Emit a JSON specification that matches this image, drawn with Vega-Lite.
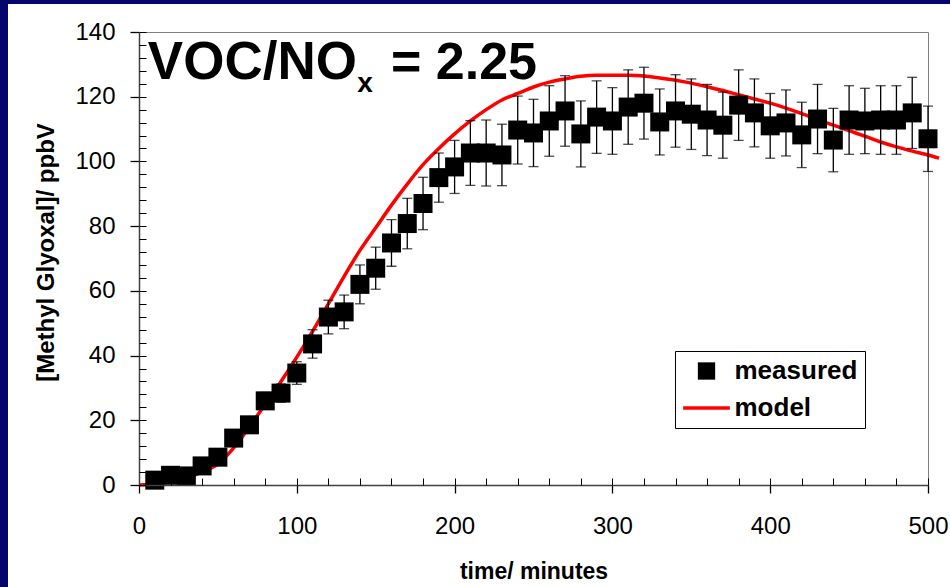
{
  "$schema": "https://vega.github.io/schema/vega-lite/v6.json",
  "autosize": {"type": "none"},
  "width": 789,
  "height": 453,
  "padding": {"left": 139, "top": 32, "right": 22, "bottom": 102},
  "background": "white",
  "config": {"view": {"stroke": null}, "font": "Liberation Sans"},
  "datasets": {
    "measured": [
      {"t": 10, "v": 1.5, "e": 0.2, "series": "measured"},
      {"t": 20, "v": 3.0, "e": 0.3, "series": "measured"},
      {"t": 30, "v": 2.8, "e": 0.3, "series": "measured"},
      {"t": 40, "v": 5.9, "e": 0.6, "series": "measured"},
      {"t": 50, "v": 8.6, "e": 0.9, "series": "measured"},
      {"t": 60, "v": 14.5, "e": 1.5, "series": "measured"},
      {"t": 70, "v": 18.6, "e": 1.9, "series": "measured"},
      {"t": 80, "v": 26.0, "e": 2.6, "series": "measured"},
      {"t": 90, "v": 28.4, "e": 2.8, "series": "measured"},
      {"t": 100, "v": 34.6, "e": 3.5, "series": "measured"},
      {"t": 110, "v": 43.6, "e": 4.4, "series": "measured"},
      {"t": 120, "v": 51.9, "e": 5.2, "series": "measured"},
      {"t": 130, "v": 53.5, "e": 5.2, "series": "measured"},
      {"t": 140, "v": 62.0, "e": 6.0, "series": "measured"},
      {"t": 150, "v": 67.0, "e": 6.5, "series": "measured"},
      {"t": 160, "v": 74.8, "e": 7.2, "series": "measured"},
      {"t": 170, "v": 80.8, "e": 7.8, "series": "measured"},
      {"t": 180, "v": 87.0, "e": 8.1, "series": "measured"},
      {"t": 190, "v": 95.0, "e": 7.6, "series": "measured"},
      {"t": 200, "v": 98.3, "e": 8.2, "series": "measured"},
      {"t": 210, "v": 102.6, "e": 10.0, "series": "measured"},
      {"t": 220, "v": 102.6, "e": 10.2, "series": "measured"},
      {"t": 230, "v": 102.0, "e": 9.5, "series": "measured"},
      {"t": 240, "v": 109.7, "e": 10.5, "series": "measured"},
      {"t": 250, "v": 108.8, "e": 10.4, "series": "measured"},
      {"t": 260, "v": 112.5, "e": 10.9, "series": "measured"},
      {"t": 270, "v": 115.6, "e": 10.9, "series": "measured"},
      {"t": 280, "v": 108.5, "e": 10.2, "series": "measured"},
      {"t": 290, "v": 113.7, "e": 11.2, "series": "measured"},
      {"t": 300, "v": 112.5, "e": 10.3, "series": "measured"},
      {"t": 310, "v": 116.8, "e": 11.5, "series": "measured"},
      {"t": 320, "v": 118.0, "e": 11.1, "series": "measured"},
      {"t": 330, "v": 112.2, "e": 10.2, "series": "measured"},
      {"t": 340, "v": 115.6, "e": 11.2, "series": "measured"},
      {"t": 350, "v": 114.6, "e": 10.9, "series": "measured"},
      {"t": 360, "v": 112.8, "e": 11.0, "series": "measured"},
      {"t": 370, "v": 111.2, "e": 10.2, "series": "measured"},
      {"t": 380, "v": 117.4, "e": 10.9, "series": "measured"},
      {"t": 390, "v": 115.0, "e": 10.5, "series": "measured"},
      {"t": 400, "v": 111.0, "e": 10.0, "series": "measured"},
      {"t": 410, "v": 111.9, "e": 10.2, "series": "measured"},
      {"t": 420, "v": 108.2, "e": 10.1, "series": "measured"},
      {"t": 430, "v": 113.1, "e": 10.7, "series": "measured"},
      {"t": 440, "v": 106.6, "e": 9.8, "series": "measured"},
      {"t": 450, "v": 112.8, "e": 10.6, "series": "measured"},
      {"t": 460, "v": 112.5, "e": 10.1, "series": "measured"},
      {"t": 470, "v": 112.8, "e": 10.6, "series": "measured"},
      {"t": 480, "v": 112.8, "e": 10.6, "series": "measured"},
      {"t": 490, "v": 115.0, "e": 11.0, "series": "measured"},
      {"t": 500, "v": 107.0, "e": 10.1, "series": "measured"}
    ],
    "model": [
      {"t": 0, "v": 0, "series": "model"},
      {"t": 10, "v": 0.3, "series": "model"},
      {"t": 20, "v": 1.0, "series": "model"},
      {"t": 30, "v": 2.2, "series": "model"},
      {"t": 40, "v": 4.0, "series": "model"},
      {"t": 50, "v": 6.5, "series": "model"},
      {"t": 60, "v": 11.5, "series": "model"},
      {"t": 70, "v": 18.0, "series": "model"},
      {"t": 80, "v": 25.0, "series": "model"},
      {"t": 90, "v": 32.0, "series": "model"},
      {"t": 100, "v": 39.5, "series": "model"},
      {"t": 110, "v": 47.5, "series": "model"},
      {"t": 120, "v": 56.0, "series": "model"},
      {"t": 130, "v": 64.5, "series": "model"},
      {"t": 140, "v": 72.5, "series": "model"},
      {"t": 150, "v": 79.5, "series": "model"},
      {"t": 160, "v": 86.5, "series": "model"},
      {"t": 170, "v": 93.0, "series": "model"},
      {"t": 180, "v": 99.0, "series": "model"},
      {"t": 190, "v": 104.0, "series": "model"},
      {"t": 200, "v": 108.5, "series": "model"},
      {"t": 210, "v": 112.5, "series": "model"},
      {"t": 220, "v": 116.0, "series": "model"},
      {"t": 230, "v": 119.0, "series": "model"},
      {"t": 240, "v": 121.0, "series": "model"},
      {"t": 250, "v": 123.0, "series": "model"},
      {"t": 260, "v": 124.5, "series": "model"},
      {"t": 270, "v": 125.5, "series": "model"},
      {"t": 280, "v": 126.3, "series": "model"},
      {"t": 290, "v": 126.6, "series": "model"},
      {"t": 300, "v": 126.6, "series": "model"},
      {"t": 310, "v": 126.6, "series": "model"},
      {"t": 320, "v": 126.4, "series": "model"},
      {"t": 330, "v": 125.8, "series": "model"},
      {"t": 340, "v": 125.1, "series": "model"},
      {"t": 350, "v": 124.2, "series": "model"},
      {"t": 360, "v": 123.1, "series": "model"},
      {"t": 370, "v": 121.9, "series": "model"},
      {"t": 380, "v": 120.6, "series": "model"},
      {"t": 390, "v": 119.3, "series": "model"},
      {"t": 400, "v": 118.0, "series": "model"},
      {"t": 410, "v": 116.5, "series": "model"},
      {"t": 420, "v": 114.8, "series": "model"},
      {"t": 430, "v": 113.0, "series": "model"},
      {"t": 440, "v": 111.2, "series": "model"},
      {"t": 450, "v": 109.5, "series": "model"},
      {"t": 460, "v": 107.8, "series": "model"},
      {"t": 470, "v": 106.0, "series": "model"},
      {"t": 480, "v": 104.5, "series": "model"},
      {"t": 490, "v": 103.2, "series": "model"},
      {"t": 500, "v": 102.0, "series": "model"},
      {"t": 507, "v": 101.0, "series": "model"}
    ]
  },
  "resolve": {"axis": {"x": "independent", "y": "independent"}},
  "layer": [
    {
      "data": {"values": [{}]},
      "mark": {"type": "rect", "color": "#05056e", "clip": false},
      "encoding": {
        "x": {"datum": -90, "type": "quantitative", "scale": {"domain": [0, 500], "nice": false, "zero": false},
              "axis": {"orient": "top", "domainColor": "#808080", "domainWidth": 1, "ticks": false, "labels": false, "title": null, "grid": false}},
        "x2": {"datum": -83.02},
        "y": {"datum": 152, "type": "quantitative", "scale": {"domain": [0, 140], "nice": false, "zero": false}, "axis": null},
        "y2": {"datum": -35}
      }
    },
    {
      "data": {"values": [{}]},
      "mark": {"type": "rect", "color": "#05056e", "clip": false},
      "encoding": {
        "x": {"datum": -90, "type": "quantitative", "scale": {"domain": [0, 500], "nice": false, "zero": false}, "axis": null},
        "x2": {"datum": 520},
        "y": {"datum": 152, "type": "quantitative", "scale": {"domain": [0, 140], "nice": false, "zero": false},
              "axis": {"orient": "right", "domainColor": "#808080", "domainWidth": 1, "ticks": false, "labels": false, "title": null, "grid": false}},
        "y2": {"datum": 148.65}
      }
    },
    {
      "data": {"name": "model"},
      "mark": {"type": "line", "strokeWidth": 3.5, "interpolate": "monotone", "clip": false},
      "encoding": {
        "x": {"field": "t", "type": "quantitative", "scale": {"domain": [0, 500], "nice": false, "zero": false},
              "axis": {"orient": "bottom", "values": [0, 100, 200, 300, 400, 500], "tickSize": 8, "tickColor": "#000", "tickWidth": 1.3,
                       "domainColor": "#404040", "domainWidth": 1.5, "labelFont": "Liberation Sans", "labelFontSize": 24, "labelColor": "#000",
                       "labelPadding": 21, "labelFlush": false, "title": "time/ minutes", "titleFont": "Liberation Sans", "titleFontSize": 23,
                       "titleFontWeight": "bold", "titleColor": "#000", "titlePadding": 22, "grid": false, "zindex": 1}},
        "y": {"field": "v", "type": "quantitative", "scale": {"domain": [0, 140], "nice": false, "zero": false},
              "axis": {"orient": "left", "values": [0, 20, 40, 60, 80, 100, 120, 140], "tickSize": 9, "tickColor": "#000", "tickWidth": 1.3,
                       "domainColor": "#404040", "domainWidth": 1.5, "labelFont": "Liberation Sans", "labelFontSize": 24, "labelColor": "#000",
                       "labelPadding": 15, "title": "[Methyl Glyoxal]/ ppbV", "titleFont": "Liberation Sans", "titleFontSize": 24,
                       "titleFontWeight": "bold", "titleColor": "#000", "titlePadding": 16, "titleY": 220, "grid": false, "zindex": 1}},
        "color": {"field": "series", "type": "nominal",
                  "scale": {"domain": ["measured", "model"], "range": ["#000000", "#ff0000"]},
                  "legend": {"title": null, "orient": "none", "legendX": 536, "legendY": 319, "padding": 7, "strokeColor": "#000", "fillColor": "#fff",
                             "labelFont": "Liberation Sans", "labelFontSize": 26, "labelFontWeight": "bold", "labelColor": "#000",
                             "symbolSize": 300, "symbolOffset": 11.5, "labelOffset": 15, "rowPadding": 11, "symbolOpacity": 1,
                             "encode": {"symbols": {"update": {"fill": {"scale": "color", "field": "value"}, "stroke": {"value": "transparent"}, "strokeWidth": {"value": 0}}}}}}
      }
    },
    {
      "data": {"name": "measured"},
      "mark": {"type": "errorbar", "color": "#000", "ticks": {"size": 10, "thickness": 1.3, "color": "#000"}, "rule": {"strokeWidth": 1.3, "color": "#000"}},
      "encoding": {
        "x": {"field": "t", "type": "quantitative", "scale": {"domain": [0, 500], "nice": false, "zero": false}, "axis": null},
        "y": {"field": "v", "type": "quantitative", "scale": {"domain": [0, 140], "nice": false, "zero": false}, "axis": null},
        "yError": {"field": "e"}
      }
    },
    {
      "data": {"name": "measured"},
      "mark": {"type": "point", "filled": true, "size": 361, "opacity": 1},
      "encoding": {
        "x": {"field": "t", "type": "quantitative", "scale": {"domain": [0, 500], "nice": false, "zero": false},
              "axis": {"orient": "bottom", "values": [0, 20, 40, 60, 80, 100, 120, 140, 160, 180, 200, 220, 240, 260, 280, 300, 320, 340, 360, 380, 400, 420, 440, 460, 480, 500],
                       "tickSize": -7, "tickColor": "#000", "tickWidth": 1, "labels": false, "domain": false, "title": null, "grid": false, "zindex": 1}},
        "y": {"field": "v", "type": "quantitative", "scale": {"domain": [0, 140], "nice": false, "zero": false},
              "axis": {"orient": "left", "values": [0, 4, 8, 12, 16, 20, 24, 28, 32, 36, 40, 44, 48, 52, 56, 60, 64, 68, 72, 76, 80, 84, 88, 92, 96, 100, 104, 108, 112, 116, 120, 124, 128, 132, 136, 140],
                       "tickSize": -7, "tickColor": "#000", "tickWidth": 1, "labels": false, "domain": false, "title": null, "grid": false, "zindex": 1}},
        "color": {"field": "series", "type": "nominal",
                  "scale": {"domain": ["measured", "model"], "range": ["#000000", "#ff0000"]},
                  "legend": {"title": null, "orient": "none", "legendX": 536, "legendY": 319, "padding": 7, "strokeColor": "#000", "fillColor": "#fff",
                             "labelFont": "Liberation Sans", "labelFontSize": 26, "labelFontWeight": "bold", "labelColor": "#000",
                             "symbolSize": 300, "symbolOffset": 11.5, "labelOffset": 15, "rowPadding": 11, "symbolOpacity": 1,
                             "encode": {"symbols": {"update": {"fill": {"scale": "color", "field": "value"}, "stroke": {"value": "transparent"}, "strokeWidth": {"value": 0}}}}}},
        "shape": {"field": "series", "type": "nominal",
                  "scale": {"domain": ["measured", "model"], "range": ["square", "M-2.7,-0.2H2.7V0.2H-2.7Z"]},
                  "legend": {"title": null, "orient": "none", "legendX": 536, "legendY": 319, "padding": 7, "strokeColor": "#000", "fillColor": "#fff",
                             "labelFont": "Liberation Sans", "labelFontSize": 26, "labelFontWeight": "bold", "labelColor": "#000",
                             "symbolSize": 300, "symbolOffset": 11.5, "labelOffset": 15, "rowPadding": 11, "symbolOpacity": 1,
                             "encode": {"symbols": {"update": {"fill": {"scale": "color", "field": "value"}, "stroke": {"value": "transparent"}, "strokeWidth": {"value": 0}}}}}}
      }
    },
    {
      "data": {"values": [{}]},
      "mark": {"type": "text", "font": "Liberation Sans", "fontWeight": "bold", "fontSize": 53, "align": "left", "baseline": "alphabetic", "color": "#000", "clip": false},
      "encoding": {
        "x": {"datum": 5.6, "type": "quantitative", "scale": {"domain": [0, 500], "nice": false, "zero": false}, "axis": null},
        "y": {"datum": 125.4, "type": "quantitative", "scale": {"domain": [0, 140], "nice": false, "zero": false}, "axis": null},
        "text": {"value": "VOC/NO"}
      }
    },
    {
      "data": {"values": [{}]},
      "mark": {"type": "text", "font": "Liberation Sans", "fontWeight": "bold", "fontSize": 28, "align": "left", "baseline": "alphabetic", "color": "#000", "clip": false},
      "encoding": {
        "x": {"datum": 138.3, "type": "quantitative", "scale": {"domain": [0, 500], "nice": false, "zero": false}, "axis": null},
        "y": {"datum": 121.4, "type": "quantitative", "scale": {"domain": [0, 140], "nice": false, "zero": false}, "axis": null},
        "text": {"value": "x"}
      }
    },
    {
      "data": {"values": [{}]},
      "mark": {"type": "text", "font": "Liberation Sans", "fontWeight": "bold", "fontSize": 52, "align": "left", "baseline": "alphabetic", "color": "#000", "clip": false},
      "encoding": {
        "x": {"datum": 159.7, "type": "quantitative", "scale": {"domain": [0, 500], "nice": false, "zero": false}, "axis": null},
        "y": {"datum": 125.4, "type": "quantitative", "scale": {"domain": [0, 140], "nice": false, "zero": false}, "axis": null},
        "text": {"value": "= 2.25"}
      }
    }
  ]
}
